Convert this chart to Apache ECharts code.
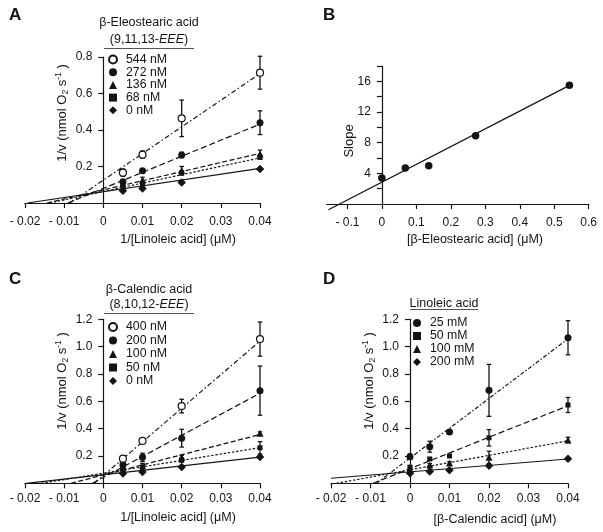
<!DOCTYPE html>
<html><head><meta charset="utf-8">
<script src="https://cdn.jsdelivr.net/npm/echarts@6/dist/echarts.min.js"></script>
<style>html,body{margin:0;padding:0;background:#fff}#c{width:603px;height:532px}</style>
</head><body><div id="c"></div>
<script>
// ================= DATA =================
// Panel A: 1/v vs 1/[Linoleic acid], β-Eleostearic acid concentrations
const xA = [0.005, 0.01, 0.02, 0.04];
const aNames = ['544 nM', '272 nM', '136 nM', '68 nM', '0 nM'];
const aY544 = [0.166, 0.265, 0.464, 0.714];
const aY272 = [0.117, 0.177, 0.263, 0.44];
const aY136 = [0.105, 0.126, 0.18, 0.27];
const aY68  = [0.095, 0.105, 0.164, 0.25];
const aY0   = [0.067, 0.08, 0.113, 0.186];
const aE544 = [0.02, 0.02, 0.10, 0.09];
const aE272 = [0.01, 0.01, 0.015, 0.065];
const aE136 = [0.01, 0.015, 0.02, 0.02];
const aE68  = [0.01, 0.01, 0.01, 0.01];
const aE0   = [0.005, 0.005, 0.005, 0.005];
// fit lines [slope, intercept]
const aFit544 = [14.6, 0.125];
const aFit272 = [8.8, 0.08];
const aFit136 = [5.0, 0.072];
const aFit68  = [4.6, 0.063];
const aFit0   = [3.2, 0.062];

// Panel B: slope vs [β-Eleostearic acid]
const bX = [0, 0.068, 0.136, 0.272, 0.544];
const bY = [3.4, 4.7, 5.0, 8.9, 15.5];
const bFit = [23.2, 2.85];
const bFitRange = [-0.155, 0.55];

// Panel C: 1/v vs 1/[Linoleic acid], β-Calendic acid concentrations
const xC = [0.005, 0.01, 0.02, 0.04];
const cNames = ['400 nM', '200 nM', '100 nM', '50 nM', '0 nM'];
const cY400 = [0.18, 0.31, 0.565, 1.055];
const cY200 = [0.135, 0.19, 0.33, 0.678];
const cY100 = [0.115, 0.13, 0.19, 0.366];
const cY50  = [0.1, 0.115, 0.17, 0.26];
const cY0   = [0.072, 0.083, 0.12, 0.193];
const cE400 = [0.015, 0.015, 0.05, 0.125];
const cE200 = [0.02, 0.03, 0.065, 0.18];
const cE100 = [0.01, 0.015, 0.015, 0.01];
const cE50  = [0.01, 0.015, 0.015, 0.045];
const cE0   = [0.005, 0.005, 0.01, 0.01];
const cFit400 = [24.6, 0.057];
const cFit200 = [15.4, 0.043];
const cFit100 = [7.4, 0.061];
const cFit50  = [4.67, 0.074];
const cFit0   = [3.2, 0.063];

// Panel D: 1/v vs [β-Calendic acid], Linoleic acid concentrations
const xD = [0, 0.005, 0.01, 0.02, 0.04];
const dNames = ['25 mM', '50 mM', '100 mM', '200 mM'];
const dY25  = [0.195, 0.268, 0.375, 0.68, 1.065];
const dY50  = [0.118, 0.178, 0.2, 0.333, 0.573];
const dY100 = [0.1, 0.134, 0.148, 0.19, 0.317];
const dY200 = [0.073, 0.087, 0.095, 0.128, 0.18];
const dE25  = [0.02, 0.04, 0.015, 0.19, 0.125];
const dE50  = [0.01, 0.01, 0.01, 0.06, 0.055];
const dE100 = [0.01, 0.01, 0.01, 0.045, 0.02];
const dE200 = [0.005, 0.005, 0.005, 0.005, 0.005];
const dFit25  = [21.8, 0.185];
const dFit50  = [11.5, 0.107];
const dFit100 = [5.3, 0.0986];
const dFit200 = [2.35, 0.084];

// Tick values
const xTicksLin = [-0.02, -0.01, 0, 0.01, 0.02, 0.03, 0.04];
const xTicksB = [-0.1, 0, 0.1, 0.2, 0.3, 0.4, 0.5, 0.6];
const yTicksA = [0.2, 0.4, 0.6, 0.8];
const yTicksB = [2, 4, 6, 8, 10, 12, 14, 16, 18];
const yLabelsB = [4, 8, 12, 16];
const yTicksCD = [0.2, 0.4, 0.6, 0.8, 1.0, 1.2];

// ================= CHART =================
const FONT = 'Liberation Sans, Arial, sans-serif';
const INK = '#141414';
const chart = echarts.init(document.getElementById('c'), null, {renderer: 'canvas'});

const grids = [
  {left: 25, top: 57, width: 235, height: 146},
  {left: 326.7, top: 66, width: 262, height: 138},
  {left: 25, top: 319.3, width: 235, height: 164},
  {left: 331, top: 319.3, width: 237, height: 164}
].map(g => Object.assign({containLabel: false, outerBoundsMode: 'none'}, g));

function xFmt(v) { return v < 0 ? '- ' + Math.abs(v) : String(v); }

function xAxis(gi, min, max, ticks, margin) {
  return {
    type: 'value', gridIndex: gi, min: min, max: max,
    axisLine: {onZero: false, lineStyle: {color: INK, width: 1.2}},
    axisTick: {show: true, length: 5, customValues: ticks, lineStyle: {color: INK, width: 1.2}},
    axisLabel: {customValues: ticks, formatter: xFmt, margin: margin, color: INK, fontSize: 12, fontFamily: FONT},
    splitLine: {show: false}
  };
}
// y axis placed at x = 0 of its grid via a (negative) offset computed from the x scale
function yAxis(gi, xmin, xmax, min, max, ticks, labels, fmt) {
  const w = grids[gi].width;
  const off = -((0 - xmin) / (xmax - xmin)) * w;
  return {
    type: 'value', gridIndex: gi, min: min, max: max, offset: off,
    axisLine: {onZero: false, lineStyle: {color: INK, width: 1.2}},
    axisTick: {show: true, length: 5, customValues: ticks, lineStyle: {color: INK, width: 1.2}},
    axisLabel: {customValues: labels, formatter: fmt, margin: 11, color: INK, fontSize: 12, fontFamily: FONT},
    splitLine: {show: false}
  };
}
const f1 = v => v.toFixed(1);

const xAxes = [
  xAxis(0, -0.02, 0.04, xTicksLin, 13),
  xAxis(1, -0.16, 0.6, xTicksB, 13),
  xAxis(2, -0.02, 0.04, xTicksLin, 9),
  xAxis(3, -0.02, 0.04, xTicksLin, 9)
];
const yAxes = [
  yAxis(0, -0.02, 0.04, 0, 0.8, yTicksA, yTicksA, f1),
  yAxis(1, -0.16, 0.6, 0, 18, yTicksB, yLabelsB, v => String(v)),
  yAxis(2, -0.02, 0.04, 0, 1.2, yTicksCD, yTicksCD, f1),
  yAxis(3, -0.02, 0.04, 0, 1.2, yTicksCD, yTicksCD, f1)
];

const DASH = {
  dashdot: [5, 2.5, 1.5, 2.5],
  long: [6, 3],
  med: [5, 2.5],
  dot: [2.4, 1.8],
  dd: [4, 2, 1.5, 2],
  solid: 'solid'
};
const SYM = {
  open: {symbol: 'circle', size: 7, fill: '#fff'},
  circle: {symbol: 'circle', size: 7, fill: INK},
  tri: {symbol: 'triangle', size: 7, fill: INK},
  rect: {symbol: 'rect', size: 5, fill: INK},
  diamond: {symbol: 'diamond', size: 8.5, fill: INK}
};

const series = [];
function addSet(gi, xs, ys, errs, fit, name, sym, dash, xMin, xEnd) {
  const m = fit[0], b = fit[1];
  const x0 = Math.max(-b / m, xMin);
  series.push({
    type: 'line', xAxisIndex: gi, yAxisIndex: gi, symbol: 'none', silent: true, z: 2,
    data: [[x0, m * x0 + b], [xEnd, m * xEnd + b]],
    lineStyle: {color: INK, width: 1.2, type: DASH[dash]}
  });
  series.push({
    type: 'custom', xAxisIndex: gi, yAxisIndex: gi, z: 3, silent: true,
    data: xs.map((x, j) => [x, ys[j], errs[j]]),
    renderItem: function (params, api) {
      const x = api.value(0), y = api.value(1), e = api.value(2);
      const t = api.coord([x, y + e]), bt = api.coord([x, y - e]);
      const st = {stroke: INK, lineWidth: 1.3};
      return {type: 'group', children: [
        {type: 'line', shape: {x1: t[0], y1: t[1], x2: bt[0], y2: bt[1]}, style: st},
        {type: 'line', shape: {x1: t[0] - 2.3, y1: t[1], x2: t[0] + 2.3, y2: t[1]}, style: st},
        {type: 'line', shape: {x1: bt[0] - 2.3, y1: bt[1], x2: bt[0] + 2.3, y2: bt[1]}, style: st}
      ]};
    }
  });
  const s = SYM[sym];
  series.push({
    type: 'scatter', name: name, xAxisIndex: gi, yAxisIndex: gi, z: 4,
    symbol: s.symbol, symbolSize: s.size,
    itemStyle: {color: s.fill, borderColor: INK, borderWidth: sym === 'open' ? 1.2 : 0, opacity: 1},
    data: xs.map((x, j) => [x, ys[j]])
  });
}

addSet(0, xA, aY0, aE0, aFit0, aNames[4], 'diamond', 'solid', -0.02, 0.04);
addSet(0, xA, aY68, aE68, aFit68, aNames[3], 'rect', 'dot', -0.02, 0.04);
addSet(0, xA, aY136, aE136, aFit136, aNames[2], 'tri', 'med', -0.02, 0.04);
addSet(0, xA, aY272, aE272, aFit272, aNames[1], 'circle', 'long', -0.02, 0.04);
addSet(0, xA, aY544, aE544, aFit544, aNames[0], 'open', 'dashdot', -0.02, 0.04);

addSet(2, xC, cY0, cE0, cFit0, cNames[4], 'diamond', 'solid', -0.02, 0.04);
addSet(2, xC, cY50, cE50, cFit50, cNames[3], 'rect', 'dot', -0.02, 0.04);
addSet(2, xC, cY100, cE100, cFit100, cNames[2], 'tri', 'med', -0.02, 0.04);
addSet(2, xC, cY200, cE200, cFit200, cNames[1], 'circle', 'long', -0.02, 0.04);
addSet(2, xC, cY400, cE400, cFit400, cNames[0], 'open', 'dashdot', -0.02, 0.04);

addSet(3, xD, dY200, dE200, dFit200, dNames[3], 'diamond', 'solid', -0.02, 0.04);
addSet(3, xD, dY100, dE100, dFit100, dNames[2], 'tri', 'dot', -0.02, 0.04);
addSet(3, xD, dY50, dE50, dFit50, dNames[1], 'rect', 'long', -0.02, 0.04);
addSet(3, xD, dY25, dE25, dFit25, dNames[0], 'circle', 'dd', -0.02, 0.04);

// Panel B
series.push({
  type: 'line', xAxisIndex: 1, yAxisIndex: 1, symbol: 'none', silent: true, clip: false, z: 2,
  data: bFitRange.map(x => [x, bFit[0] * x + bFit[1]]),
  lineStyle: {color: INK, width: 1.3}
});
series.push({
  type: 'scatter', name: 'Slope', xAxisIndex: 1, yAxisIndex: 1, z: 4,
  symbol: 'circle', symbolSize: 7.5, itemStyle: {color: INK, opacity: 1},
  data: bX.map((x, j) => [x, bY[j]])
});

function legend(names, left, top, gap) {
  return {
    data: names, orient: 'vertical', left: left, top: top, selectedMode: false, padding: 0,
    itemWidth: 8, itemHeight: 8, itemGap: gap,
    textStyle: {color: INK, fontSize: 12.3, fontFamily: FONT, lineHeight: 12, padding: [0, 0, 0, 4]}
  };
}

const txt = (x, y, text, extra) => ({
  type: 'text', x: x, y: y, silent: true,
  style: Object.assign({text: text, fill: INK, fontSize: 12, fontFamily: FONT, align: 'center', verticalAlign: 'middle'}, extra || {})
});
const vtxt = (x, y, text, extra) => Object.assign(txt(x, y, text, extra), {rotation: Math.PI / 2});
const hline = (x1, x2, y) => ({
  type: 'line', silent: true, shape: {x1: x1, y1: y, x2: x2, y2: y}, style: {stroke: '#555', lineWidth: 1}
});
const italicRich = {i: {fontStyle: 'italic', fontSize: 12.5, fontFamily: FONT, fill: INK}};
const vRich = {
  sub: {fontSize: 8.5, fontFamily: FONT, fill: INK, lineHeight: 7, verticalAlign: 'bottom'},
  sup: {fontSize: 8.5, fontFamily: FONT, fill: INK, lineHeight: 7, verticalAlign: 'top'}
};
const vName = '1/v (nmol O{sub|2} s{sup|-1} )';
const vStyle = {fontSize: 13, lineHeight: 16, rich: vRich};
const bold = {fontSize: 17, fontWeight: 'bold', align: 'left', verticalAlign: 'top', fontFamily: FONT};

const graphics = [
  txt(9, 7, 'A', bold),
  txt(323, 7, 'B', bold),
  txt(9, 271, 'C', bold),
  txt(323, 271, 'D', bold),
  txt(149, 23, 'β-Eleostearic acid', {fontSize: 12.5}),
  txt(149, 39.5, '(9,11,13-{i|EEE})', {fontSize: 12.5, rich: italicRich}),
  hline(104, 194, 48.5),
  txt(149, 290, 'β-Calendic acid', {fontSize: 12.5}),
  txt(149, 305, '(8,10,12-{i|EEE})', {fontSize: 12.5, rich: italicRich}),
  hline(104, 194, 313.5),
  txt(444, 304, 'Linoleic acid', {fontSize: 12.5}),
  hline(410, 478, 309.5),
  txt(178, 240, '1/[Linoleic acid] (μM)', {fontSize: 12.5}),
  txt(475, 240, '[β-Eleostearic acid] (μM)', {fontSize: 12.5}),
  txt(178, 517.5, '1/[Linoleic acid] (μM)', {fontSize: 12.5}),
  txt(495, 520, '[β-Calendic acid] (μM)', {fontSize: 12.5}),
  vtxt(62, 113, vName, vStyle),
  vtxt(62, 381, vName, vStyle),
  vtxt(369, 381, vName, vStyle),
  vtxt(349, 141, 'Slope', {fontSize: 13})
];

chart.setOption({
  animation: false,
  backgroundColor: '#fff',
  grid: grids,
  xAxis: xAxes,
  yAxis: yAxes,
  legend: [
    legend(aNames, 108, 53.5, 0.7),
    legend(cNames, 108, 321, 1.5),
    legend(dNames, 413, 317, 1)
  ],
  graphic: graphics,
  series: series
});
</script>
</body></html>
